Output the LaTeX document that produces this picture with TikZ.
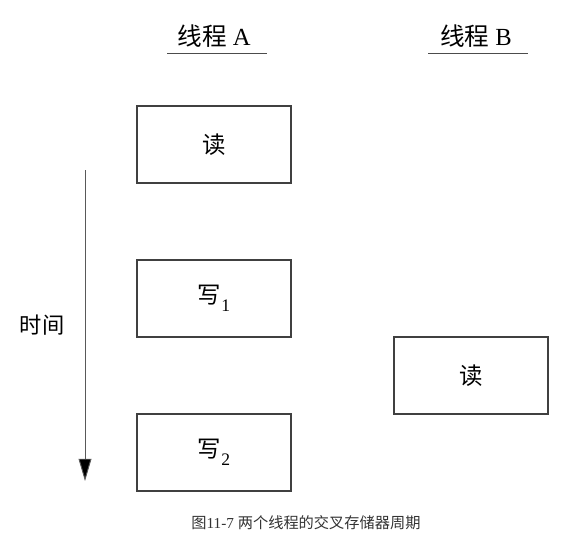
\documentclass[tikz,border=0pt]{standalone}
\usepackage{fontspec}
\setmainfont{Liberation Serif}
\newfontfamily\cjk{Noto Sans CJK SC}
\usetikzlibrary{arrows.meta}

\newcommand{\subidx}[1]{\raisebox{-7pt}{\fontsize{15}{15}\selectfont #1}}

\tikzset{
    opbox/.style={shape=rectangle, draw=black!75, line width=0.9pt, minimum width=154*0.03cm, minimum height=77*0.03cm, font=\fontsize{20}{20}\selectfont},
    thread/.style={font=\fontsize{21}{21}\selectfont},
}

\begin{document}
\begin{tikzpicture}[x=0.03cm, y=-0.03cm]
    \useasboundingbox (0,0) rectangle (571,548);
    \node[thread] at (214,36) (TA) {{\cjk 线程} A};
    \node[thread] at (476,36) (TB) {{\cjk 线程} B};
    \draw[black!70, line width=0.8pt] (167,53) -- (267,53);
    \draw[black!70, line width=0.8pt] (428,53) -- (528,53);
    \node[opbox] at (214,144.5) (RA) {\cjk 读};
    \node[opbox] at (214,298.5) (W1) {{\cjk 写}\subidx{1}};
    \node[opbox] at (214,452.5) (W2) {{\cjk 写}\subidx{2}};
    \node[opbox] at (471,375.5) (RB) {\cjk 读};
    \coordinate (T0) at (85,170);
    \coordinate (T1) at (85,481);
    \draw[-{Triangle[length=19pt, width=11pt, fill=black]}, draw=black!65, line width=0.8pt] (T0) -- (T1);
    \node[font=\fontsize{19}{19}\selectfont] at (42,325) (TL) {\cjk 时间};
    \node[font=\fontsize{13}{13}\selectfont, text=black!80] at (306,523) (CAP) {{\cjk 图}11-7 {\cjk 两个线程的交叉存储器周期}};
\end{tikzpicture}
\end{document}
